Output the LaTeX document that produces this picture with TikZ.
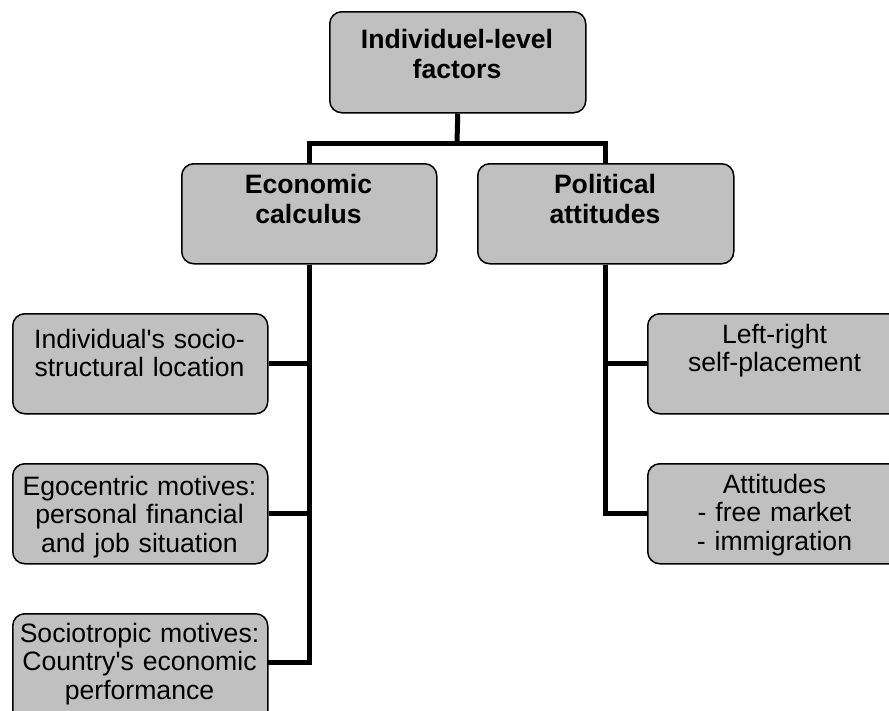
\documentclass[tikz,border=0pt]{standalone}
\usepackage{fontspec}
\setmainfont{Liberation Sans}[Ligatures=TeXOff]
\definecolor{boxgray}{HTML}{C0C0C0}
\begin{document}
\begin{tikzpicture}[x=1pt,y=-1pt,
  box/.style={draw=black,fill=boxgray,rounded corners=12pt,line width=1.5pt,
    minimum width=255pt,minimum height=100pt,inner sep=0pt,anchor=north west},
  txt/.style={anchor=base,inner sep=0pt,text width=250pt,align=center,
    font=\fontsize{26.6pt}{28.5pt}\selectfont},
  btxt/.style={txt,font=\fontsize{26.6pt}{30pt}\selectfont\bfseries},
  conn/.style={line width=5pt,line join=miter}]
\useasboundingbox (0,0) rectangle (889,710);
\clip (0,0) rectangle (889,710);
\fill[white] (0,0) rectangle (889,710);
% boxes
\node[box,minimum width=256pt,minimum height=101pt] (top) at (329,11) {};
\node[box] (econ) at (181,163) {};
\node[box,minimum width=256pt] (pol) at (477,163) {};
\node[box] (indiv) at (12,313) {};
\node[box] (ego) at (12,463) {};
\node[box,minimum height=115pt] (socio) at (12,613) {};
\node[box] (lr) at (647,313) {};
\node[box] (att) at (647,463) {};
% texts
\node[btxt] (topt) at (457,48) {Individuel-level\\factors};
\node[btxt] (econt) at (308.5,193) {Economic\\calculus};
\node[btxt] (polt) at (605,193) {Political\\attitudes};
\node[txt] (indivt) at (139.5,348) {Individual's socio-\\structural location};
\node[txt] (egot) at (139.5,495) {Egocentric motives:\\personal financial\\and job situation};
\node[txt] (sociot) at (139.5,642) {Sociotropic motives:\\Country's economic\\performance};
\node[txt] (lrt) at (774.5,343) {Left-right\\self-placement};
\node[txt] (attt) at (774.5,493) {Attitudes\\- free market\\- immigration};
% connectors
\coordinate (j1) at (457,143);
\coordinate (sj) at (267,662);
\draw[conn] (top.south) -- (j1);
\draw[conn] (econ.north) |- (j1);
\draw[conn] (pol.north) |- (j1);
\draw[conn] (sj) -| (econ.south);
\draw[conn] (ego.east) -- (ego.east -| econ.south);
\draw[conn] (indiv.east) -- (indiv.east -| econ.south);
\draw[conn] (att.west) -| (pol.south);
\draw[conn] (lr.west) -- (lr.west -| pol.south);
\end{tikzpicture}
\end{document}
